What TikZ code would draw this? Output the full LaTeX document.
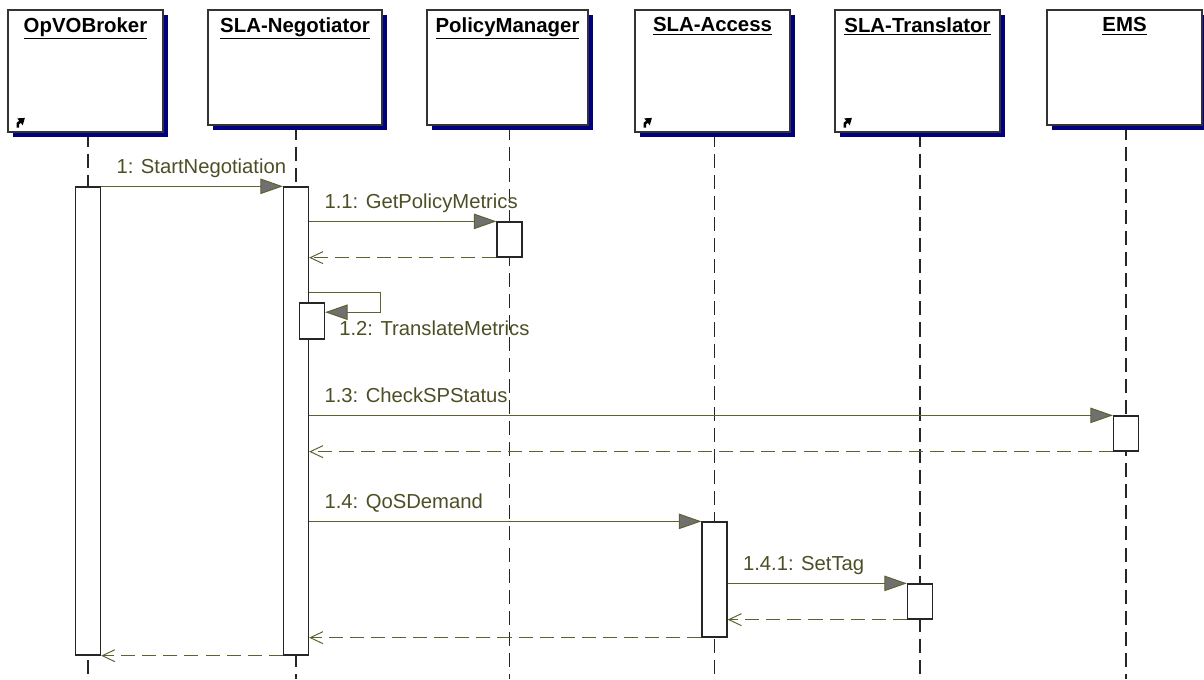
\documentclass[tikz,border=0pt]{standalone}
\usepackage{fontspec}
\setmainfont{Liberation Sans}
\usetikzlibrary{arrows.meta,shadows,backgrounds,positioning}
\definecolor{olivemsg}{RGB}{96,96,48}
\definecolor{olivetxt}{RGB}{78,78,38}
\definecolor{navyshadow}{RGB}{0,0,128}
\definecolor{headgray}{RGB}{112,112,112}

\begin{document}
\begin{tikzpicture}[x=0.025cm,y=-0.025cm,
	objbox/.style={draw=black!80, fill=white, line width=0.9pt, minimum width=3.875cm, minimum height=2.875cm,
		drop shadow={shadow xshift=3.5pt, shadow yshift=-3.5pt, fill=navyshadow, opacity=1}},
	objname/.style={font=\fontsize{14.5}{16}\selectfont\bfseries, inner sep=0pt},
	icon/.style={line width=1.9pt, -{Triangle[length=4.5pt,width=6pt]}},
	actbar/.style={draw=black!85, fill=white, line width=0.9pt, minimum width=0.625cm, inner sep=0pt},
	life/.style={draw=black!85, line width=0.8pt, dash pattern=on 10pt off 5pt},
	msg/.style={draw=olivemsg, line width=0.7pt, -{Triangle[length=16pt,width=11pt,fill=headgray]}},
	ret/.style={draw=olivemsg, line width=0.7pt, dash pattern=on 10pt off 5pt, -{Straight Barb[length=9pt,width=8.5pt]}},
	msgtext/.style={text=olivetxt, font=\fontsize{14.4}{17}\selectfont, inner sep=0pt, anchor=base west},
	lbl/.style={msgtext, xshift=10.6pt, yshift=9.2pt}]
	\useasboundingbox (0,0) rectangle (1204,679);

	% objects
	\node[objbox, minimum height=3.05cm] (opvo) at (85.5,71) {};
	\node[objbox, minimum width=4.35cm] (neg) at (295,67.5) {};
	\node[objbox, minimum width=4.025cm] (pm) at (507.5,67.5) {};
	\node[objbox, minimum height=3.05cm] (acc) at (712.5,71) {};
	\node[objbox, minimum width=4.125cm, minimum height=3.05cm] (tr) at (917.5,71) {};
	\node[objbox] (ems) at (1124.5,67.5) {};

	\node[objname, below=5.7pt of opvo.north] (opvoname) {\underline{OpVOBroker}};
	\node[objname, below=5.7pt of neg.north] (negname) {\underline{SLA-Negotiator}};
	\node[objname, below=5.7pt of pm.north] (pmname) {\underline{PolicyManager}};
	\node[objname, below=5.7pt of acc.north] (accname) {\underline{SLA-Access}};
	\node[objname, below=5.7pt of tr.north] (trname) {\underline{SLA-Translator}};
	\node[objname, below=5.7pt of ems.north] (emsname) {\underline{EMS}};

	\foreach \b in {opvo,acc,tr}
		\draw[icon] ([shift={(7.5pt,3.5pt)}]\b.south west) -- ++(0,3pt) -- ++(5pt,4pt);

	% activations
	\node[actbar, minimum height=11.7cm] (obbar) at (88,421) {};
	\node[actbar, minimum height=11.7cm] (negbar) at (296,421) {};
	\node[actbar, minimum height=0.875cm] (pmbar) at (509.5,239.5) {};
	\node[actbar, minimum height=0.9cm] (selfbar) at (312,321) {};
	\node[actbar, minimum height=0.875cm] (emsbar) at (1126,433.5) {};
	\node[actbar, minimum height=2.875cm] (accbar) at (714.5,579.5) {};
	\node[actbar, minimum height=0.875cm] (trbar) at (920,601.5) {};

	% lifelines
	\begin{pgfonlayer}{background}
		\foreach \b/\act in {opvo/obbar, neg/negbar, pm/pmbar, acc/accbar, tr/trbar, ems/emsbar}
			\draw[life] (\b.south -| \act) -- (\act |- 0,679);
	\end{pgfonlayer}

	% messages
	\draw[msg] (obbar.north east) -- (negbar.north west) node[lbl, pos=0] {1: StartNegotiation};

	\draw[msg] (negbar.east |- pmbar.north) -- (pmbar.north west) node[lbl, pos=0] {1.1: GetPolicyMetrics};
	\draw[ret] (pmbar.south west) -- (negbar.east |- pmbar.south);

	\coordinate (selfturn) at (380,292);
	\draw[msg] (negbar.east |- selfturn) -- (selfturn) |- ([yshift=-7pt]selfbar.north east);
	\node[msgtext] (selflbl) at (339,335) {1.2: TranslateMetrics};

	\draw[msg] (negbar.east |- emsbar.north) -- (emsbar.north west) node[lbl, pos=0] {1.3: CheckSPStatus};
	\draw[ret] (emsbar.south west) -- (negbar.east |- emsbar.south);

	\draw[msg] (negbar.east |- accbar.north) -- (accbar.north west) node[lbl, pos=0] {1.4: QoSDemand};

	\draw[msg] (accbar.east |- trbar.north) -- (trbar.north west) node[lbl, pos=0] {1.4.1: SetTag};
	\draw[ret] (trbar.south west) -- (accbar.east |- trbar.south);

	\draw[ret] (accbar.south west) -- (negbar.east |- accbar.south);
	\draw[ret] (negbar.south west) -- (obbar.south east);
\end{tikzpicture}
\end{document}
